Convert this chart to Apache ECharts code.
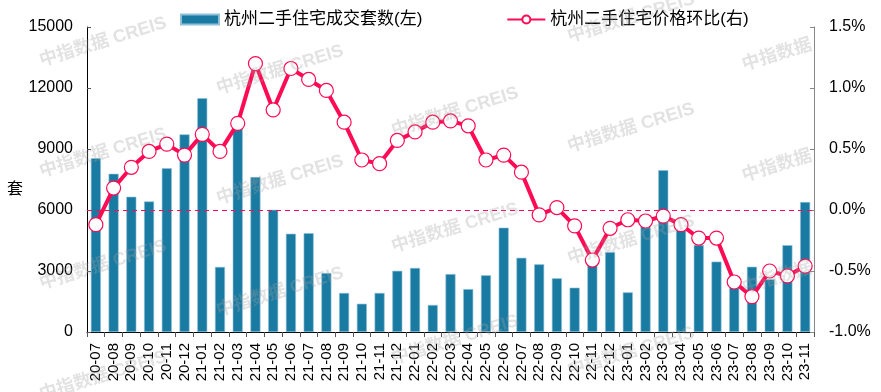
<!DOCTYPE html>
<html><head><meta charset="utf-8">
<script src="https://cdn.jsdelivr.net/npm/echarts@6/dist/echarts.min.js"></script>
<style>html,body{margin:0;padding:0;background:#fff}#c{width:881px;height:392px}</style>
</head><body><div id="c"></div>
<script>
const categories = ['20-07','20-08','20-09','20-10','20-11','20-12',
 '21-01','21-02','21-03','21-04','21-05','21-06','21-07','21-08','21-09','21-10','21-11','21-12',
 '22-01','22-02','22-03','22-04','22-05','22-06','22-07','22-08','22-09','22-10','22-11','22-12',
 '23-01','23-02','23-03','23-04','23-05','23-06','23-07','23-08','23-09','23-10','23-11'];
const volumes = [8550,7780,6650,6420,8050,9720,
 11500,3200,10100,7620,6010,4830,4860,2900,1920,1390,1920,3010,
 3150,1330,2850,2110,2790,5130,3650,3330,2640,2180,3600,3930,
 1950,5450,7960,5150,4280,3460,2400,3210,2590,4270,6390];
const priceMoM = [-0.12,0.18,0.35,0.48,0.54,0.45,
 0.62,0.48,0.71,1.20,0.82,1.16,1.07,0.98,0.72,0.41,0.38,0.57,
 0.64,0.72,0.73,0.69,0.41,0.45,0.31,-0.04,0.02,-0.13,-0.41,-0.15,
 -0.08,-0.09,-0.05,-0.12,-0.23,-0.23,-0.59,-0.71,-0.50,-0.54,-0.46];
const seriesNames = ['杭州二手住宅成交套数(左)','杭州二手住宅价格环比(右)'];
const leftTicks = {min:0, max:15000, interval:3000};
const rightTicks = {min:-1.0, max:1.5, interval:0.5};
const unitLabel = '套';
const watermarkText = '中指数据 CREIS';
const watermarkShort = '中指数据';

const FONT = '"Liberation Sans", Arial, "Noto Sans CJK SC", sans-serif';
const BAR = '#1a7ba2';
const LINE = '#ff0a54';

const wmPos = [
 [103,42,1],[103,153,1],[103,265,1],[103,376,1],
 [280,70,1],[280,180,1],[280,292,1],
 [455,112,1],[455,228,1],[455,340,1],
 [631,18,1],[631,128,1],[631,240,1],[631,352,1],
 [777,55,0],[777,166,0],[777,278,0]
];
const graphics = wmPos.map(p => ({
  type:'text', x:p[0], y:p[1], rotation:0.3, z:100, silent:true,
  style:{text:p[2]?watermarkText:watermarkShort, fill:'rgba(160,160,160,0.3)',
    font:'bold 18px "Liberation Sans", Arial, "Noto Sans CJK SC", sans-serif',
    align:'center', verticalAlign:'middle'}
}));
graphics.push({type:'text', x:15, y:188, z:10, style:{text:unitLabel, fill:'#000',
  font:'16px "Noto Sans CJK SC", sans-serif', align:'center', verticalAlign:'middle'}});

const chart = echarts.init(document.getElementById('c'), null, {renderer:'canvas'});
chart.setOption({
  animation:false,
  backgroundColor:'#fff',
  textStyle:{fontFamily:FONT},
  grid:{left:87, right:67, top:27, bottom:60, containLabel:false, outerBoundsMode:'none'},
  legend:{
    left:175, top:6, itemGap:84, itemWidth:38, itemHeight:10,
    textStyle:{fontSize:17, color:'#000', fontFamily:FONT},
    data:[
      {name:seriesNames[0], icon:'rect', itemStyle:{color:BAR}},
      {name:seriesNames[1]}
    ]
  },
  xAxis:{
    type:'category', data:categories, boundaryGap:true,
    axisLine:{lineStyle:{color:'#000', width:1}},
    axisTick:{show:true, length:5, lineStyle:{color:'#555'}},
    axisLabel:{rotate:90, interval:0, fontSize:15, color:'#000', margin:11, fontFamily:FONT}
  },
  yAxis:[
    {type:'value', min:leftTicks.min, max:leftTicks.max, interval:leftTicks.interval,
     splitLine:{show:false},
     axisLine:{show:true, lineStyle:{color:'#000'}},
     axisTick:{show:true, inside:true, length:4, lineStyle:{color:'#555'}},
     axisLabel:{fontSize:16, color:'#000', margin:14, fontFamily:FONT,
       formatter:v => String(v)}},
    {type:'value', min:rightTicks.min, max:rightTicks.max, interval:rightTicks.interval,
     position:'right', splitLine:{show:false},
     axisLine:{show:true, lineStyle:{color:'#888'}},
     axisTick:{show:true, inside:true, length:4, lineStyle:{color:'#888'}},
     axisLabel:{fontSize:16, color:'#000', margin:15, fontFamily:FONT,
       formatter:v => v.toFixed(1)+'%'}}
  ],
  series:[
    {name:seriesNames[0], type:'bar', data:volumes, yAxisIndex:0, barWidth:10,
     itemStyle:{color:BAR, borderColor:'#8fc0d8', borderWidth:0.6}},
    {name:seriesNames[1], type:'line', data:priceMoM, yAxisIndex:1, z:5,
     symbol:'circle', symbolSize:14, showAllSymbol:true,
     lineStyle:{color:LINE, width:4},
     itemStyle:{color:'#fff', borderColor:LINE, borderWidth:1.2},
     markLine:{silent:true, symbol:['none','none'], label:{show:false},
       lineStyle:{color:LINE, type:[5,4], width:1.2},
       data:[{yAxis:0}]}}
  ],
  graphic:graphics
});
</script></body></html>
